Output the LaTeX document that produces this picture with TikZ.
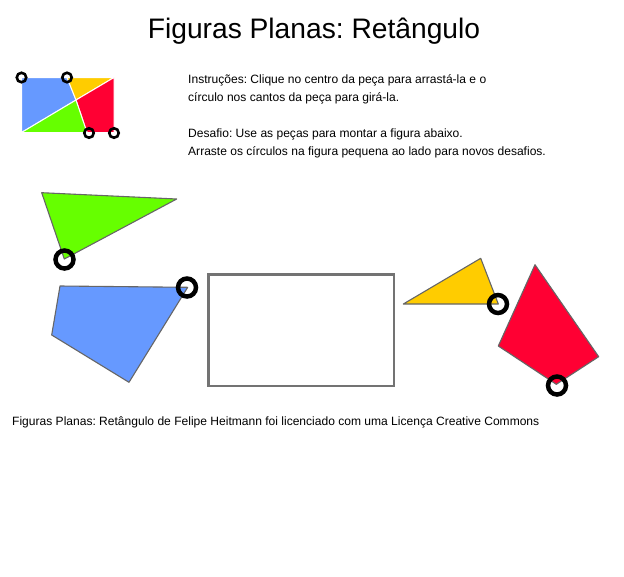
\documentclass[tikz,border=0pt]{standalone}
\usepackage{fontspec}
\setmainfont{Liberation Sans}
\definecolor{pblue}{RGB}{102,153,255}
\definecolor{pgreen}{RGB}{102,255,0}
\definecolor{pyellow}{RGB}{255,204,0}
\definecolor{pred}{RGB}{255,0,51}
\definecolor{pgrey}{RGB}{102,102,102}
\definecolor{rgrey}{RGB}{115,115,115}
\tikzset{
  mini/.style={draw=white,line width=1pt,line join=round},
  piece/.style={draw=pgrey,line width=1.1pt,line join=round},
  handle/.style={draw=black,line width=4.5pt,circle,inner sep=0pt,minimum size=18pt},
  minihandle/.style={draw=black,line width=2.6pt,circle,inner sep=0pt,minimum size=9.5pt},
  txt/.style={anchor=base west,inner sep=0pt,font=\fontsize{12.05}{14}\selectfont}
}
\begin{document}
\frenchspacing
\begin{tikzpicture}[x=1pt,y=-1pt]
\useasboundingbox (0,0) rectangle (624,576);
\node[anchor=base,inner sep=0pt,font=\fontsize{28.2}{32}\selectfont] (title) at (314,38) {Figuras Planas: Retângulo};
% miniature
\fill[mini,fill=pblue] (21.5,77.5) -- (67,77.5) -- (76,100) -- (21.5,132.5) -- cycle;
\fill[mini,fill=pyellow] (67,77.5) -- (114,77.5) -- (76,100) -- cycle;
\fill[mini,fill=pred] (114,77.5) -- (114,132.5) -- (87,132.5) -- (76,100) -- cycle;
\fill[mini,fill=pgreen] (21.5,132.5) -- (76,100) -- (87,132.5) -- cycle;
\node[minihandle] (m1) at (21.5,77.5) {};
\node[minihandle] (m2) at (67,77.5) {};
\node[minihandle] (m3) at (89,133) {};
\node[minihandle] (m4) at (114,133) {};
% text
\node[txt] (t1) at (188,83) {Instruções: Clique no centro da peça para arrastá-la e o};
\node[txt] (t2) at (188,101.5) {círculo nos cantos da peça para girá-la.};
\node[txt] (t3) at (188,137.5) {Desafio: Use as peças para montar a figura abaixo.};
\node[txt] (t4) at (188,155.5) {Arraste os círculos na figura pequena ao lado para novos desafios.};
% pieces
\filldraw[piece,fill=pgreen] (41.7,192.7) -- (176.7,199) -- (64.3,259) -- cycle;
\filldraw[piece,fill=pblue] (60,286) -- (187.7,287.3) -- (129,382.3) -- (51.7,335) -- cycle;
\filldraw[piece,fill=pyellow] (403.3,304) -- (480.7,258.3) -- (498.3,304) -- cycle;
\filldraw[piece,fill=pred] (535,264.7) -- (598.7,356.7) -- (556.3,384.3) -- (498.3,346) -- cycle;
\draw[draw=rgrey,line width=2.6pt] (208.5,274.5) rectangle (394,386);
\node[handle] (h1) at (64.5,259.5) {};
\node[handle] (h2) at (187,287.5) {};
\node[handle] (h3) at (498,304) {};
\node[handle] (h4) at (557,385.5) {};
\node[txt] (credit) at (12,425.5) {Figuras Planas: Retângulo de Felipe Heitmann foi licenciado com uma Licença Creative Commons};
\end{tikzpicture}
\end{document}
